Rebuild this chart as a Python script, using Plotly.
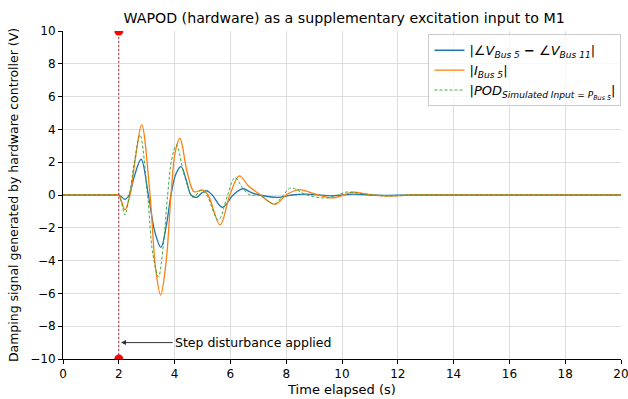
import plotly.graph_objects as go

# --- data ---
t_blue = [0, 1.0, 1.8, 2.0, 2.1, 2.22, 2.37, 2.55, 2.80, 3.06, 3.30, 3.51, 3.70, 3.87, 4.05, 4.23, 4.42, 4.59, 4.79, 4.97, 5.15, 5.35, 5.71, 6.10, 6.44, 6.75, 7.05, 7.70, 8.20, 8.70, 9.20, 9.60, 10.0, 10.4, 11.0, 11.5, 12.5, 14, 16, 18, 20]
v_blue = [0, 0, 0, 0, -0.12, -0.26, 0.0, 1.1, 2.18, 0.0, -2.3, -3.19, -1.9, 0.0, 1.3, 1.73, 0.9, 0.0, -0.14, 0.12, 0.26, 0.0, -0.75, 0.0, 0.38, 0.15, 0.0, -0.14, 0.0, 0.05, 0.0, -0.05, 0.0, 0.05, 0.0, -0.02, 0.0, 0, 0, 0, 0]

t_orange = [0, 1.0, 1.8, 2.0, 2.1, 2.22, 2.40, 2.60, 2.82, 3.12, 3.32, 3.50, 3.70, 3.87, 4.02, 4.19, 4.45, 4.70, 5.00, 5.20, 5.63, 5.98, 6.32, 6.65, 7.00, 7.60, 8.00, 8.45, 9.05, 9.65, 10.05, 10.40, 10.9, 11.6, 12.5, 14, 16, 18, 20]
v_orange = [0, 0, 0, 0, -0.4, -0.91, 0.0, 2.3, 4.27, 0.0, -4.5, -6.1, -4.0, 0.0, 2.6, 3.46, 1.4, 0.2, 0.3, 0.0, -1.83, 0.0, 1.16, 0.55, 0.1, -0.57, 0.0, 0.33, 0.05, -0.18, 0.0, 0.18, 0.05, -0.06, 0.0, 0, 0, 0, 0]

t_green = [0, 1.0, 1.8, 2.0, 2.1, 2.22, 2.38, 2.55, 2.76, 3.03, 3.22, 3.42, 3.60, 3.75, 3.90, 4.07, 4.35, 4.67, 4.95, 5.15, 5.57, 5.90, 6.16, 6.45, 6.70, 7.05, 7.57, 7.90, 8.16, 8.75, 9.45, 9.85, 10.17, 10.7, 11.6, 12.5, 14, 16, 18, 20]
v_green = [0, 0, 0, 0, -0.5, -1.22, 0.0, 1.9, 3.66, 0.0, -3.6, -4.98, -3.0, 0.0, 2.2, 3.05, 1.2, -0.14, 0.3, 0.0, -1.52, 0.0, 1.06, 0.4, 0.0, -0.02, -0.55, 0.0, 0.43, 0.0, -0.18, 0.0, 0.18, 0.08, -0.06, 0.0, 0, 0, 0, 0]

step_time = 2
y_limits = [-10, 10]
x_ticks = list(range(0, 21, 2))
y_ticks = list(range(-10, 11, 2))

label_blue = "|∠<i>V</i><sub><i>Bus 5</i></sub> <b>−</b> ∠<i>V</i><sub><i>Bus 11</i></sub>|"
label_orange = "|<i>I</i><sub><i>Bus 5</i></sub>|"
label_green = "|<i>POD</i><sub><i>Simulated Input = P</i><sub><i>Bus 5</i></sub></sub>|"

fig = go.Figure()
fig.add_trace(go.Scatter(x=t_blue, y=v_blue, mode="lines", name=label_blue,
                         line=dict(color="#1f77b4", width=1.3, shape="spline", smoothing=1.0)))
fig.add_trace(go.Scatter(x=t_orange, y=v_orange, mode="lines", name=label_orange,
                         line=dict(color="#ff7f0e", width=1.3, shape="spline", smoothing=1.0)))
fig.add_trace(go.Scatter(x=t_green, y=v_green, mode="lines", name=label_green,
                         line=dict(color="#2ca02c", width=0.9, dash="3px,2px", shape="spline", smoothing=1.0)))
fig.add_trace(go.Scatter(x=[step_time, step_time], y=y_limits, mode="lines", showlegend=False,
                         line=dict(color="#a00010", width=0.8, dash="2px,2px")))
fig.add_trace(go.Scatter(x=[step_time, step_time], y=y_limits, mode="markers", showlegend=False,
                         marker=dict(color="red", size=9), cliponaxis=True))

fig.add_annotation(x=step_time + 0.08, y=-9, ax=3.93, ay=-9, axref="x", ayref="y",
                   xref="x", yref="y", text="Step disturbance applied", xanchor="left",
                   showarrow=True, arrowhead=2, arrowsize=1, arrowwidth=1, arrowcolor="#333",
                   font=dict(size=12.5, color="black"))

fig.update_layout(
    width=628, height=399,
    margin=dict(l=63, r=7, t=31, b=40, autoexpand=False),
    paper_bgcolor="white", plot_bgcolor="white",
    font=dict(family="DejaVu Sans", size=12, color="black"),
    title=dict(text="WAPOD (hardware) as a supplementary excitation input to M1",
               x=0.548, xanchor="center", y=0.955, yanchor="middle", font=dict(size=14.2)),
    legend=dict(x=0.655, y=0.99, xanchor="left", yanchor="top",
                bgcolor="rgba(255,255,255,0.8)", bordercolor="#cccccc", borderwidth=1,
                font=dict(size=13), tracegroupgap=0),
    showlegend=True,
)
fig.update_xaxes(range=[0, 20], tickvals=x_ticks, showgrid=True, gridcolor="#dddddd",
                 showline=True, linecolor="black", linewidth=1, ticks="outside", ticklen=4,
                 tickcolor="black", zeroline=False, mirror=False, automargin=False,
                 ticklabeloverflow="allow",
                 title=dict(text="Time elapsed (s)", standoff=4, font=dict(size=13)))
fig.update_yaxes(range=y_limits, tickvals=y_ticks, showgrid=True, gridcolor="#dddddd",
                 showline=True, linecolor="black", linewidth=1, ticks="outside", ticklen=4,
                 tickcolor="black", zeroline=False, mirror=False, automargin=False,
                 title=dict(text="Damping signal generated by hardware controller (V)", standoff=8,
                            font=dict(size=12.5)))

fig.write_html("out.html", post_script="document.body.style.margin='0';",
               config={"displayModeBar": False})
